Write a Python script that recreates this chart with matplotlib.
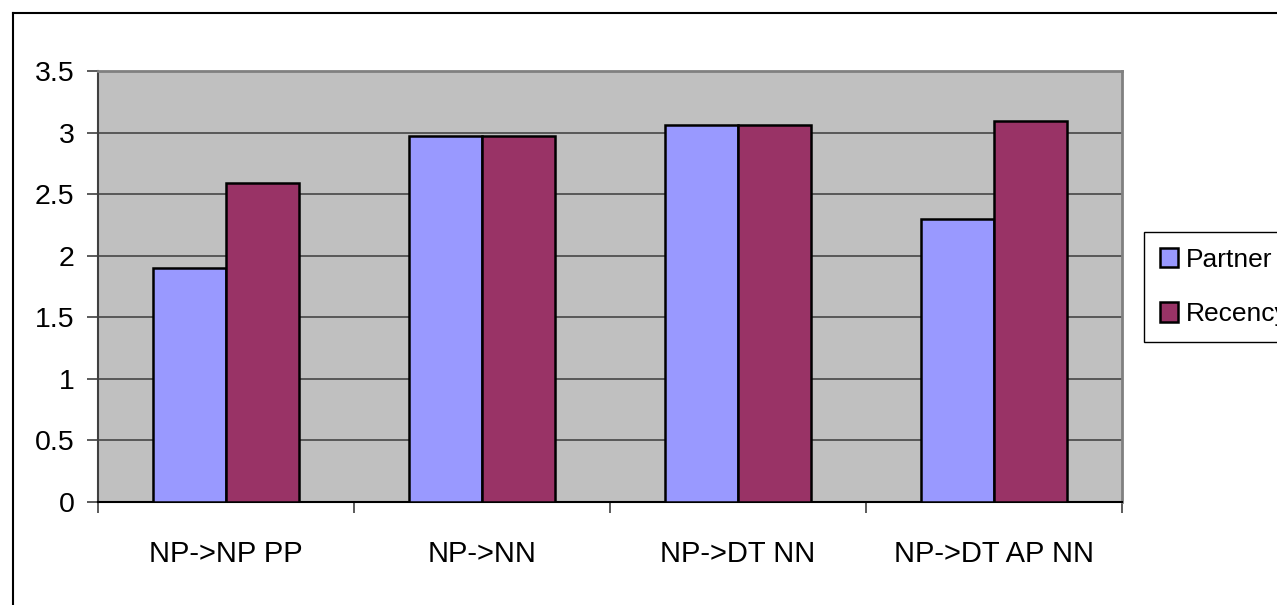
import numpy as np
import matplotlib.pyplot as plt
from matplotlib.lines import Line2D

categories = ["NP->NP PP", "NP->NN", "NP->DT NN", "NP->DT AP NN"]
partner = [1.9, 2.97, 3.06, 2.3]
recency = [2.59, 2.97, 3.06, 3.09]
yticks = [0, 0.5, 1, 1.5, 2, 2.5, 3, 3.5]
yticklabels = ["0", "0.5", "1", "1.5", "2", "2.5", "3", "3.5"]

axis_font = ['Liberation Sans', 'DejaVu Sans']

W, H = 1277, 605
fig = plt.figure(figsize=(W / 100, H / 100), dpi=100)
fig.patch.set_facecolor('white')

# outer chart frame (only left/top visible)
fig.add_artist(Line2D([13 / W, 13 / W], [0, 1 - 13 / H], transform=fig.transFigure,
                      color='black', lw=1.5))
fig.add_artist(Line2D([13 / W, 1], [1 - 13 / H, 1 - 13 / H], transform=fig.transFigure,
                      color='black', lw=1.5))

ax = fig.add_axes([98 / W, (H - 502) / H, 1024 / W, 431 / H])
ax.set_facecolor('#C0C0C0')

x = np.arange(len(categories))
w = 0.287
b1 = ax.bar(x - w / 2, partner, w, color='#9999FF', edgecolor='black', lw=1.8,
            label='Partner', zorder=3)
b2 = ax.bar(x + w / 2, recency, w, color='#993366', edgecolor='black', lw=1.8,
            label='Recency', zorder=3)

ax.set_xlim(-0.5, len(categories) - 0.5)
ax.set_ylim(0, 3.5)
ax.set_yticks(yticks)
ax.set_yticklabels(yticklabels, family=axis_font, fontsize=20.5)
ax.yaxis.grid(True, color='#505050', lw=1.3, zorder=1)

# category boundaries get the tick marks, names sit between them
ax.set_xticks(np.arange(-0.5, len(categories), 1.0))
ax.set_xticklabels([])
ax.set_xticks(x, minor=True)
ax.set_xticklabels(categories, minor=True, family=axis_font, fontsize=21)
ax.tick_params(axis='x', which='major', length=8, width=1.2, color='#404040', direction='out')
ax.tick_params(axis='x', which='minor', length=0, pad=27)
ax.tick_params(axis='y', length=8, width=1.2, color='#404040', pad=9)

ax.spines['left'].set_color('#404040')
ax.spines['left'].set_linewidth(1.5)
ax.spines['bottom'].set_color('black')
ax.spines['bottom'].set_linewidth(1.5)
ax.spines['top'].set_color('#808080')
ax.spines['top'].set_linewidth(2)
ax.spines['right'].set_color('#808080')
ax.spines['right'].set_linewidth(2)

leg = fig.legend(handles=[b1, b2], loc='upper left',
                 bbox_to_anchor=(1144 / W, 1 - 232 / H),
                 prop={'family': 'Liberation Sans', 'size': 19},
                 fancybox=False, edgecolor='black', framealpha=1,
                 handlelength=0.68, handleheight=0.75, handletextpad=0.3,
                 labelspacing=1.15, borderpad=0.6, borderaxespad=0)
leg.get_frame().set_linewidth(1.0)

fig.savefig('out.png', dpi=100)
